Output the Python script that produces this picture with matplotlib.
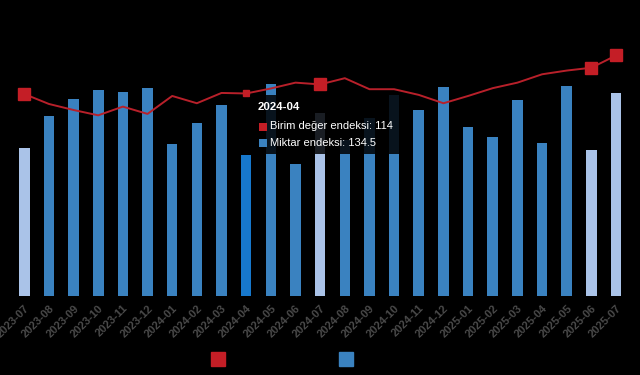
import numpy as np
import matplotlib.pyplot as plt
from matplotlib.lines import Line2D
from matplotlib.patches import Rectangle

plt.rcParams['font.family'] = ['Liberation Sans', 'DejaVu Sans']

# data
months = ['2023-07', '2023-08', '2023-09', '2023-10', '2023-11', '2023-12',
          '2024-01', '2024-02', '2024-03', '2024-04', '2024-05', '2024-06',
          '2024-07', '2024-08', '2024-09', '2024-10', '2024-11', '2024-12',
          '2025-01', '2025-02', '2025-03', '2025-04', '2025-05', '2025-06',
          '2025-07']
miktar = [141.2, 172.0, 188.0, 196.6, 194.7, 198.8, 145.3, 165.0, 182.3,
          134.5, 202.3, 126.0, 174.3, 149.0, 170.0, 191.8, 177.5, 199.7,
          161.5, 152.0, 187.0, 146.3, 200.4, 139.3, 193.4]
birim = [113.7, 108.1, 104.7, 101.7, 106.6, 102.5, 112.6, 108.5, 114.3,
         114.0, 116.8, 120.1, 119.1, 122.6, 116.4, 116.4, 113.2, 108.5,
         112.6, 117.0, 120.1, 124.8, 126.9, 128.5, 135.4]
light_months = ['2023-07', '2024-07', '2025-06', '2025-07']
hover_month = '2024-04'

BLUE = '#3a82c0'
LIGHT = '#aac3e8'
HOVER = '#1778cc'
RED = '#b8202a'

W, H = 640, 375
fig = plt.figure(figsize=(W / 100, H / 100), dpi=100, facecolor='black')
ax = fig.add_axes([11.9 / W, 1 - 296 / H, 616.5 / W, 256 / H])
ax.set_facecolor('black')

x = np.arange(len(months))
colors = []
for m in months:
    if m in light_months:
        colors.append(LIGHT)
    elif m == hover_month:
        colors.append(HOVER)
    else:
        colors.append(BLUE)
ax.bar(x, miktar, width=0.43, color=colors, zorder=2)
ax.set_xlim(-0.5, len(months) - 0.5)
ax.set_ylim(0, 244.3)
ax.set_yticks([])
for s in ax.spines.values():
    s.set_visible(False)
ax.set_xticks(x)
ax.set_xticklabels(months, rotation=45, ha='right', rotation_mode='anchor',
                   color='#4a4a4a', fontsize=8, fontweight='bold')
ax.tick_params(axis='x', length=0, pad=5)

ax2 = ax.twinx()
ax2.set_ylim(0, 144.1)
ax2.set_yticks([])
for s in ax2.spines.values():
    s.set_visible(False)
ax2.plot(x, birim, color=RED, lw=1.4, zorder=3)
big = [i for i, m in enumerate(months) if m in light_months]
ax2.plot(x[big], np.array(birim)[big], 's', color='#c41e26', ms=9, zorder=4)
hv = months.index(hover_month)
ax2.plot(x[hv], birim[hv], 's', color='#c41e26', ms=5, zorder=4)

# tooltip
fig.add_artist(Rectangle((250 / W, 1 - 154 / H), 158 / W, 59 / H,
                         transform=fig.transFigure, facecolor='black',
                         alpha=0.85, edgecolor='none', zorder=5))
fig.text(258 / W, 1 - 107 / H, hover_month, color='white', fontsize=8.2,
         fontweight='bold', va='center', zorder=6)
fig.add_artist(Rectangle((259 / W, 1 - 131 / H), 8 / W, 8 / H,
                         transform=fig.transFigure, facecolor='#c41e26', zorder=6))
fig.text(270 / W, 1 - 126.5 / H, f'Birim değer endeksi: {birim[hv]:g}',
         color='white', fontsize=8, va='center', zorder=6)
fig.add_artist(Rectangle((259 / W, 1 - 147 / H), 8 / W, 8 / H,
                         transform=fig.transFigure, facecolor=BLUE, zorder=6))
fig.text(270 / W, 1 - 142.5 / H, f'Miktar endeksi: {miktar[hv]:g}',
         color='white', fontsize=8, va='center', zorder=6)

handles = [Line2D([], [], marker='s', ls='', color='#c41e26', ms=9.5),
           Line2D([], [], marker='s', ls='', color=BLUE, ms=9.5)]
fig.legend(handles, ['Birim değer endeksi', 'Miktar endeksi'],
           loc='center', bbox_to_anchor=(0.5, 1 - 359.5 / H), ncol=2,
           frameon=False, labelcolor='black', fontsize=8,
           handlelength=1.0, handletextpad=0.4, columnspacing=1.2)

fig.savefig('out.png', dpi=100, facecolor='black')
